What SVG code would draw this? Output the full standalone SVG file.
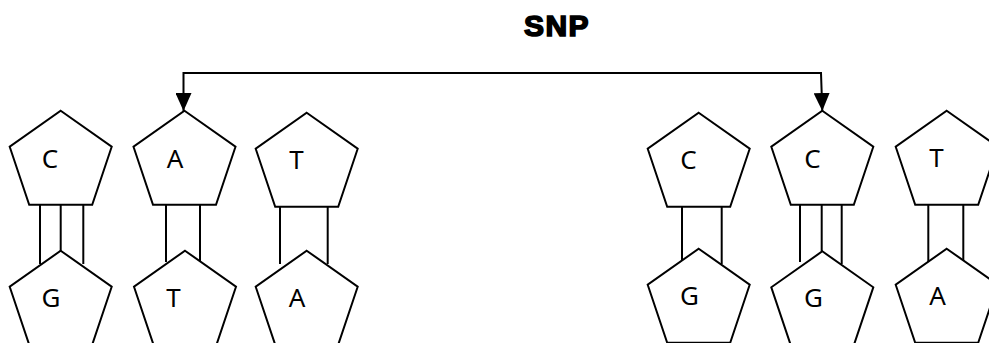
<svg xmlns="http://www.w3.org/2000/svg" width="989" height="343" viewBox="0 0 989 343">
<style>
.pent{fill:#fff;stroke:#000;stroke-width:2;stroke-linejoin:miter}
.bond{stroke:#000;stroke-width:2;fill:none}
.lbl{font-family:"Noto Sans","Open Sans","DejaVu Sans",sans-serif;font-size:26px;fill:#000;text-anchor:middle}
.title{font-family:"Liberation Sans",Arial,sans-serif;font-weight:bold;font-size:30px;fill:#000;stroke:#000;stroke-width:1.6;text-anchor:middle;letter-spacing:1.5px}
.conn{stroke:#000;stroke-width:2;fill:none}
</style>
<defs>
<polygon id="p" points="0,0 51,36 31.5,94 -31.5,94 -51,36"/>
<marker id="ah" viewBox="0 0 18 16" refX="18" refY="8" markerWidth="18" markerHeight="16" markerUnits="userSpaceOnUse" orient="auto">
<path d="M0,0 L18,8 L0,16 z" fill="#000"/>
</marker>
</defs>
<rect width="989" height="343" fill="#fff"/>
<text class="title" x="557" y="36">SNP</text>

<g id="bonds">
<line class="bond" x1="40" y1="204" x2="40" y2="264"/>
<line class="bond" x1="60.7" y1="204" x2="60.7" y2="251"/>
<line class="bond" x1="83.3" y1="204" x2="83.3" y2="264"/>
<line class="bond" x1="166" y1="204" x2="166" y2="262"/>
<line class="bond" x1="200" y1="204" x2="200" y2="261"/>
<line class="bond" x1="280" y1="206" x2="280" y2="264"/>
<line class="bond" x1="327.7" y1="206" x2="327.7" y2="264"/>
<line class="bond" x1="682" y1="204" x2="682" y2="260"/>
<line class="bond" x1="721.7" y1="206" x2="721.7" y2="264"/>
<line class="bond" x1="800" y1="204" x2="800" y2="262"/>
<line class="bond" x1="821.7" y1="204" x2="821.7" y2="251"/>
<line class="bond" x1="841.7" y1="204" x2="841.7" y2="264"/>
<line class="bond" x1="928.3" y1="204" x2="928.3" y2="262"/>
<line class="bond" x1="963.3" y1="204" x2="963.3" y2="261"/>
</g>

<g id="n1"><use href="#p" class="pent" x="60.7" y="110.7"/><text class="lbl" x="50" y="167.5">C</text></g>
<g id="n2"><use href="#p" class="pent" x="60.7" y="250.7"/><text class="lbl" x="51" y="307">G</text></g>
<g id="n3"><use href="#p" class="pent" x="184.5" y="110.7"/><text class="lbl" x="175" y="167.5">A</text></g>
<g id="n4"><use href="#p" class="pent" x="185" y="250.7"/><text class="lbl" x="173.5" y="307">T</text></g>
<g id="n5"><use href="#p" class="pent" x="306.7" y="112.7"/><text class="lbl" x="296.5" y="169">T</text></g>
<g id="n6"><use href="#p" class="pent" x="306.7" y="250.7"/><text class="lbl" x="297" y="307">A</text></g>

<g id="n7"><use href="#p" class="pent" x="698.7" y="112.7"/><text class="lbl" x="688.5" y="169">C</text></g>
<g id="n8"><use href="#p" class="pent" x="698.7" y="248.7"/><text class="lbl" x="689.5" y="305">G</text></g>
<g id="n9"><use href="#p" class="pent" x="822.3" y="110.7"/><text class="lbl" x="812.5" y="167.5">C</text></g>
<g id="n10"><use href="#p" class="pent" x="822.3" y="251.3"/><text class="lbl" x="813.5" y="307">G</text></g>
<g id="n11"><use href="#p" class="pent" x="946.7" y="110.7"/><text class="lbl" x="936.5" y="166.5">T</text></g>
<g id="n12"><use href="#p" class="pent" x="946.7" y="248.7"/><text class="lbl" x="937.5" y="305">A</text></g>

<g id="connectors">
<path class="conn" d="M502,73 H183.5 V111" marker-end="url(#ah)"/>
<path class="conn" d="M502,73 H821 L822.3,111" marker-end="url(#ah)"/>
</g>
</svg>
